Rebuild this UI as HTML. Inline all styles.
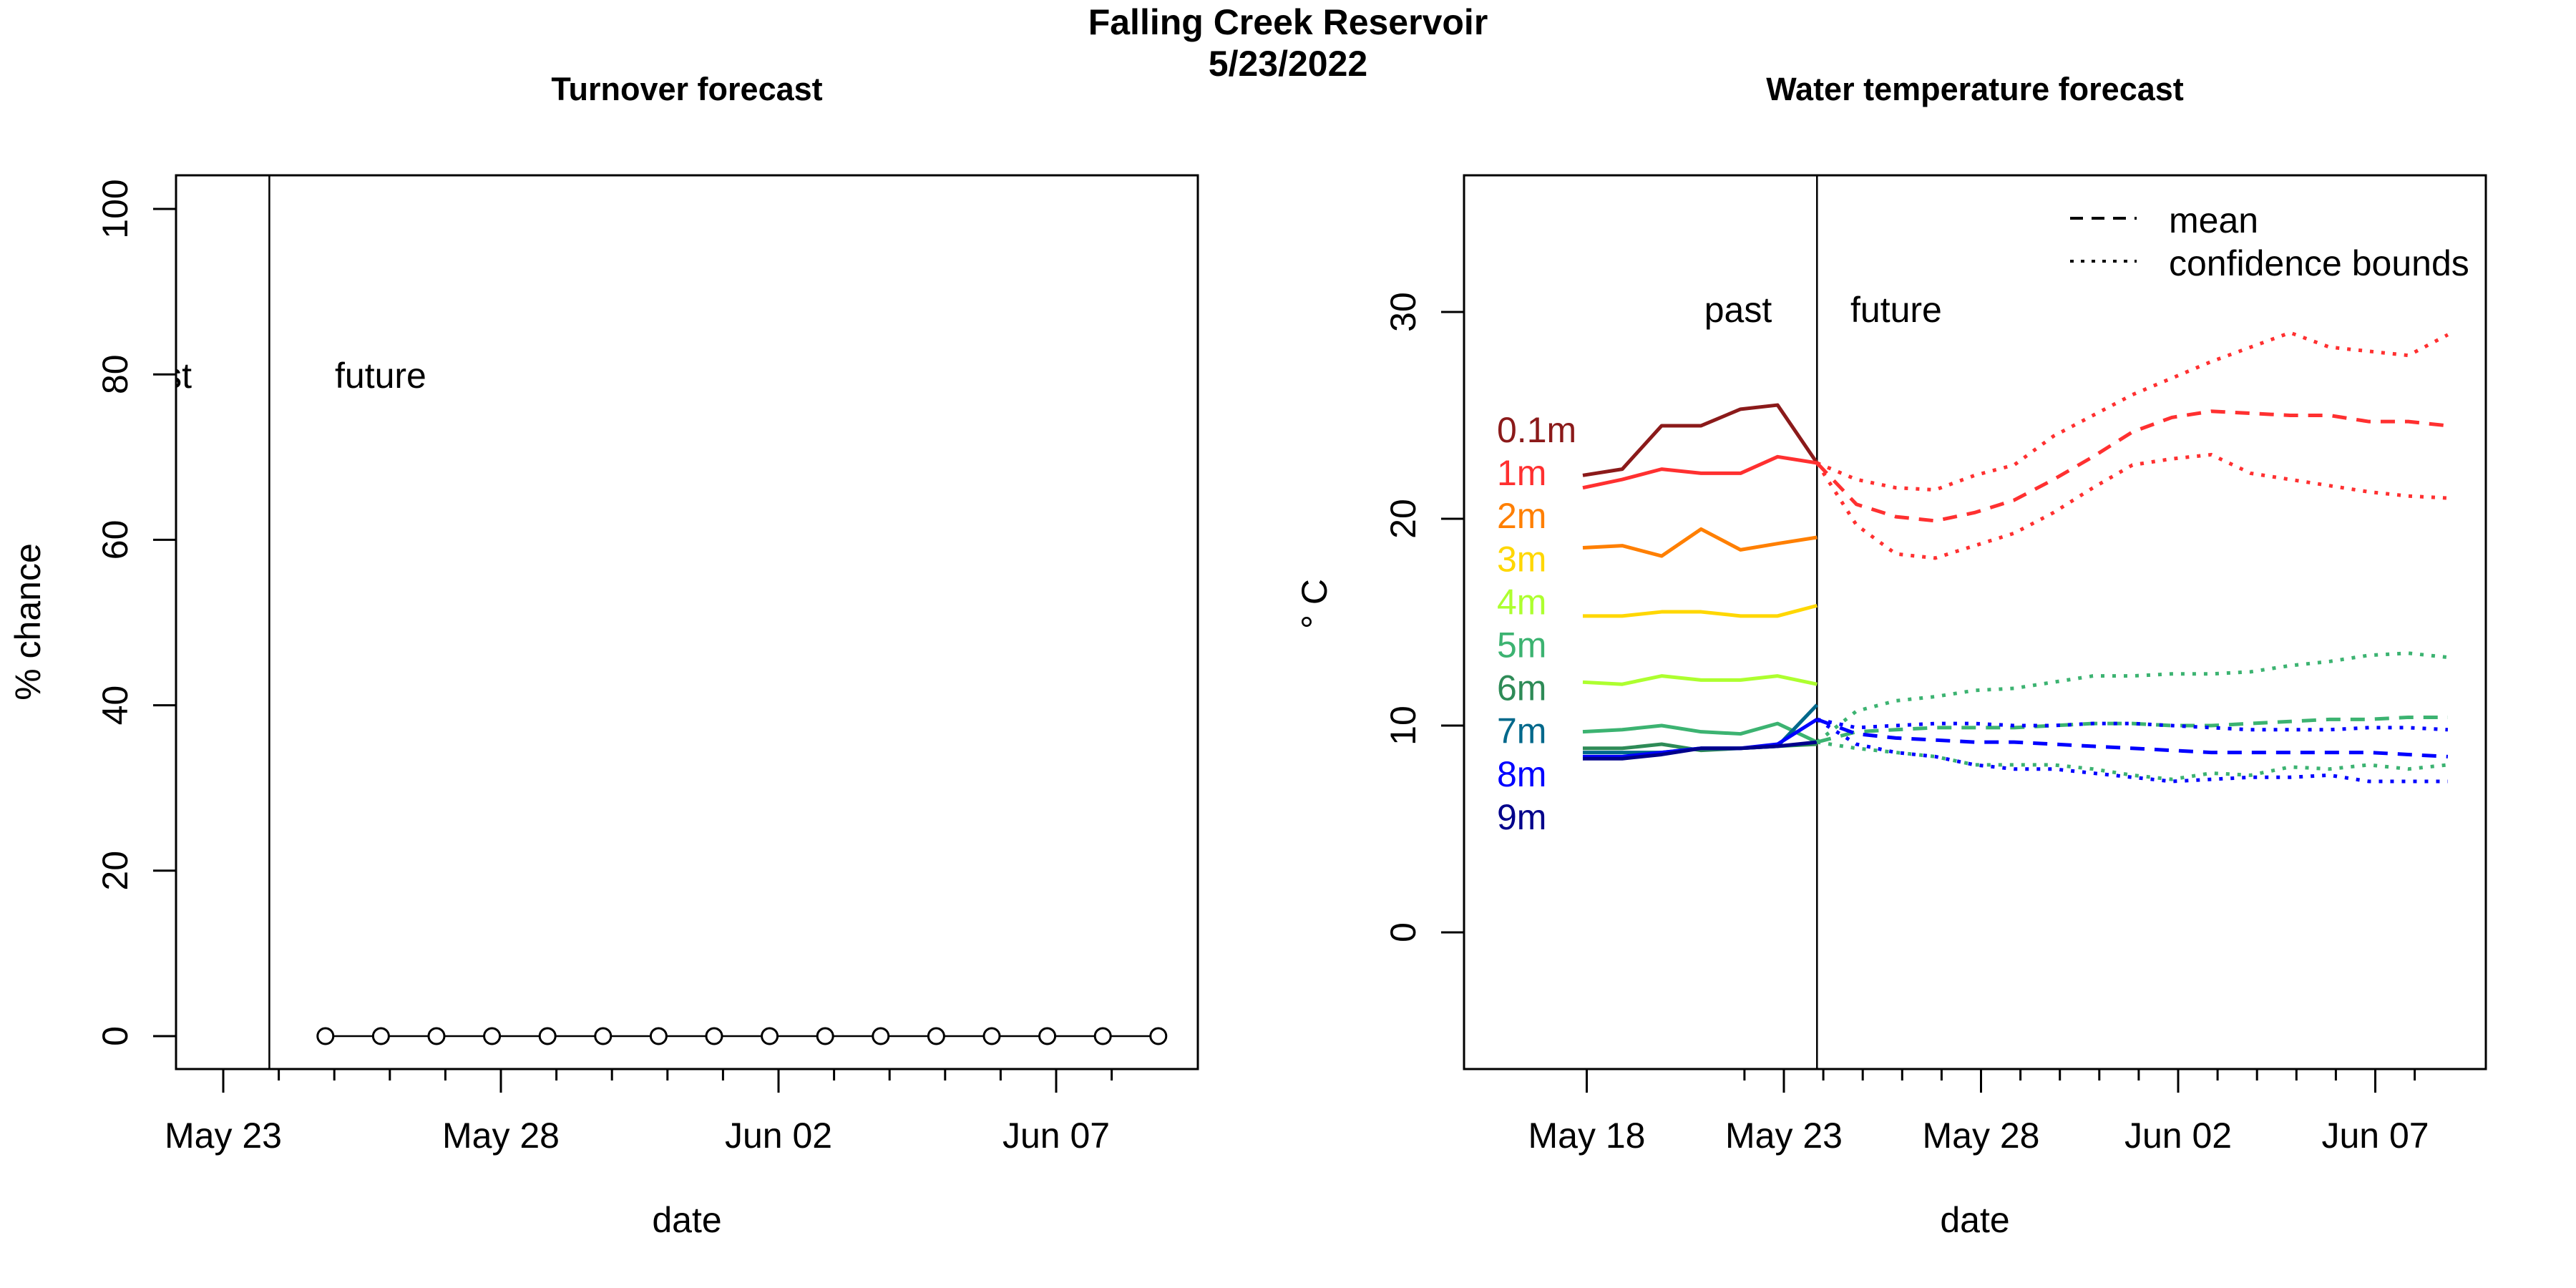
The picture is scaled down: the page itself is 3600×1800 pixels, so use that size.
<!DOCTYPE html>
<html><head><meta charset="utf-8"><style>
html,body{margin:0;padding:0;background:#fff}
svg{display:block;font-family:"Liberation Sans",Arial,sans-serif}
</style></head><body>
<svg id="chart" width="3600" height="1800" viewBox="0 0 3600 1800" xmlns="http://www.w3.org/2000/svg">
<defs>
<clipPath id="clipL"><rect x="246" y="245" width="1428" height="1249"/></clipPath>
<clipPath id="clipR"><rect x="2046" y="245" width="1428" height="1249"/></clipPath>
</defs>
<text x="1800" y="48" font-size="50" font-weight="bold" text-anchor="middle">Falling Creek Reservoir</text>
<text x="1800" y="106" font-size="50" font-weight="bold" text-anchor="middle">5/23/2022</text>
<g id="left"></g>
<g id="right"></g>
</svg>
<script>
// ---- Turnover data ----
const turnDays = [1.84,2.84,3.84,4.84,5.84,6.84,7.84,8.84,9.84,10.84,11.84,12.84,13.84,14.84,15.84,16.84];
const turnChance = [0,0,0,0,0,0,0,0,0,0,0,0,0,0,0,0];
const turnYTicks = [0,20,40,60,80,100];
const turnXTickDays = [0,5,10,15];
const turnXTickLabels = ["May 23","May 28","Jun 02","Jun 07"];

// ---- Water temperature data ----
const depthLabels = ["0.1m","1m","2m","3m","4m","5m","6m","7m","8m","9m"];
const depthColors = ["#8b1a1a","#ff3030","#ff7f00","#ffd700","#adff2f","#3cb371","#2e8b57","#00688b","#0000ff","#00008b"];
const pastDays = [-5.1,-4.1,-3.1,-2.1,-1.1,-0.16,0.84];
const past01 = [22.1,22.4,24.5,24.5,25.3,25.5,22.7];
const past1 = [21.5,21.9,22.4,22.2,22.2,23.0,22.7];
const past2 = [18.6,18.7,18.2,19.5,18.5,18.8,19.1];
const past3 = [15.3,15.3,15.5,15.5,15.3,15.3,15.8];
const past4 = [12.1,12.0,12.4,12.2,12.2,12.4,12.0];
const past5 = [9.7,9.8,10.0,9.7,9.6,10.1,9.2];
const past6 = [8.9,8.9,9.1,8.8,8.9,9.0,9.1];
const past7 = [8.7,8.7,8.7,8.9,8.9,9.0,11.0];
const past8 = [8.5,8.5,8.7,8.9,8.9,9.1,10.3];
const past9 = [8.4,8.4,8.6,8.9,8.9,9.0,9.2];
const fcDays = [0.84,1.84,2.84,3.84,4.84,5.84,6.84,7.84,8.84,9.84,10.84,11.84,12.84,13.84,14.84,15.84,16.84];
const fc1Mean = [22.7,20.7,20.1,19.9,20.3,20.9,21.9,23.0,24.2,24.9,25.2,25.1,25.0,25.0,24.7,24.7,24.5];
const fc1Upper = [22.7,21.9,21.5,21.4,22.1,22.6,24.0,25.0,26.0,26.8,27.6,28.3,29.0,28.3,28.1,27.9,28.9];
const fc1Lower = [22.7,19.7,18.3,18.1,18.7,19.3,20.3,21.5,22.6,22.9,23.1,22.2,21.9,21.6,21.3,21.1,21.0];
const fc5Mean = [9.2,9.7,9.8,9.9,9.9,9.9,10.0,10.1,10.1,10.0,10.0,10.1,10.2,10.3,10.3,10.4,10.4];
const fc5Upper = [9.2,10.7,11.2,11.4,11.7,11.8,12.1,12.4,12.4,12.5,12.5,12.6,12.9,13.1,13.4,13.5,13.3];
const fc5Lower = [9.2,8.9,8.7,8.5,8.1,8.1,8.1,7.9,7.6,7.4,7.7,7.6,8.0,7.9,8.1,7.9,8.1];
const fc8Mean = [10.3,9.6,9.4,9.3,9.2,9.2,9.1,9.0,8.9,8.8,8.7,8.7,8.7,8.7,8.7,8.6,8.5];
const fc8Upper = [10.3,9.9,10.0,10.1,10.1,10.0,10.0,10.1,10.1,10.0,9.9,9.8,9.8,9.8,9.9,9.9,9.8];
const fc8Lower = [10.3,9.1,8.7,8.5,8.1,7.9,7.9,7.7,7.5,7.3,7.4,7.5,7.5,7.6,7.3,7.3,7.3];
const tempYTicks = [0,10,20,30];
const tempXTickDays = [-5,0,5,10,15];
const tempXTickLabels = ["May 18","May 23","May 28","Jun 02","Jun 07"];

const NS="http://www.w3.org/2000/svg";
function mk(parent,tag,attrs,text){const e=document.createElementNS(NS,tag);for(const k in attrs)e.setAttribute(k,attrs[k]);if(text!==undefined)e.textContent=text;parent.appendChild(e);return e;}

// ---- Left panel ----
const L=document.getElementById('left');
const lx=d=>312+d*77.6, ly=v=>1448-v*11.56;
let e;
e=mk(L,'text',{x:960,y:140,'font-size':45,'font-weight':'bold','text-anchor':'middle'},'Turnover forecast');


e=mk(L,'rect',{x:246,y:245,width:1428,height:1249,fill:'none',stroke:'#000','stroke-width':3});


turnYTicks.forEach(v=>{
  e=mk(L,'line',{x1:214,x2:246,y1:ly(v),y2:ly(v),stroke:'#000','stroke-width':3});
  
  
  e=mk(L,'text',{x:178,y:ly(v),'font-size':50,'text-anchor':'middle',transform:`rotate(-90 178 ${ly(v)})`},String(v));
  
  
});
for(let d=1;d<=16;d++){
  e=mk(L,'line',{x1:lx(d),x2:lx(d),y1:1494,y2:1510,stroke:'#000','stroke-width':3});
  
  
}
turnXTickDays.forEach((d,i)=>{
  e=mk(L,'line',{x1:lx(d),x2:lx(d),y1:1494,y2:1527,stroke:'#000','stroke-width':3});
  
  
  e=mk(L,'text',{x:lx(d),y:1604,'font-size':50,'text-anchor':'middle'},turnXTickLabels[i]);
  
  
});
e=mk(L,'text',{x:960,y:1722,'font-size':50,'text-anchor':'middle'},'date');


e=mk(L,'text',{x:56,y:869,'font-size':50,'text-anchor':'middle',transform:'rotate(-90 56 869)'},'% chance');


e=mk(L,'line',{x1:lx(0.83),x2:lx(0.83),y1:245,y2:1494,stroke:'#000','stroke-width':2.5});


const gclip=mk(L,'g',{'clip-path':'url(#clipL)'});
e=mk(gclip,'text',{x:268,y:542,'font-size':50,'text-anchor':'end'},'past');


e=mk(L,'text',{x:468,y:542,'font-size':50},'future');


e=mk(L,'polyline',{points:turnDays.map((d,i)=>lx(d)+','+ly(turnChance[i])).join(' '),fill:'none',stroke:'#000','stroke-width':2.5});


turnDays.forEach((d,i)=>{
  e=mk(L,'circle',{cx:lx(d),cy:ly(turnChance[i]),r:11,fill:'#fff',stroke:'#000','stroke-width':3});
  
  
});

// ---- Right panel ----
const R=document.getElementById('right');
const rx=d=>2493+d*55.1, ry=v=>1303-v*28.9;
e=mk(R,'text',{x:2760,y:140,'font-size':45,'font-weight':'bold','text-anchor':'middle'},'Water temperature forecast');


e=mk(R,'rect',{x:2046,y:245,width:1428,height:1249,fill:'none',stroke:'#000','stroke-width':3});


tempYTicks.forEach(v=>{
  e=mk(R,'line',{x1:2014,x2:2046,y1:ry(v),y2:ry(v),stroke:'#000','stroke-width':3});
  
  
  e=mk(R,'text',{x:1978,y:ry(v),'font-size':50,'text-anchor':'middle',transform:`rotate(-90 1978 ${ry(v)})`},String(v));
  
  
});
for(let d=-1;d<=16;d++){
  e=mk(R,'line',{x1:rx(d),x2:rx(d),y1:1494,y2:1510,stroke:'#000','stroke-width':3});
  
  
}
tempXTickDays.forEach((d,i)=>{
  e=mk(R,'line',{x1:rx(d),x2:rx(d),y1:1494,y2:1527,stroke:'#000','stroke-width':3});
  
  
  e=mk(R,'text',{x:rx(d),y:1604,'font-size':50,'text-anchor':'middle'},tempXTickLabels[i]);
  
  
});
e=mk(R,'text',{x:2760,y:1722,'font-size':50,'text-anchor':'middle'},'date');


e=mk(R,'text',{x:1854,y:844,'font-size':50,'text-anchor':'middle',transform:'rotate(-90 1854 844)'},'° C');


e=mk(R,'line',{x1:rx(0.84),x2:rx(0.84),y1:245,y2:1494,stroke:'#000','stroke-width':2.5});


e=mk(R,'text',{x:2429,y:450,'font-size':50,'text-anchor':'middle'},'past');


e=mk(R,'text',{x:2586,y:450,'font-size':50},'future');



const rg=mk(R,'g',{'clip-path':'url(#clipR)'});
const pastSeries=[past01,past1,past2,past3,past4,past5,past6,past7,past8,past9];
pastSeries.forEach((s,i)=>{
  e=mk(rg,'polyline',{points:pastDays.map((d,j)=>rx(d)+','+ry(s[j])).join(' '),fill:'none',stroke:depthColors[i],'stroke-width':5,'stroke-linejoin':'round'});
  
  
});
const fcSeries=[[fc1Mean,'#ff3030','mean','1m'],[fc1Upper,'#ff3030','upper','1m'],[fc1Lower,'#ff3030','lower','1m'],
 [fc5Mean,'#3cb371','mean','5m'],[fc5Upper,'#3cb371','upper','5m'],[fc5Lower,'#3cb371','lower','5m'],
 [fc8Mean,'#0000ff','mean','8m'],[fc8Upper,'#0000ff','upper','8m'],[fc8Lower,'#0000ff','lower','8m']];
fcSeries.forEach(([s,c,kind,dep])=>{
  e=mk(rg,'polyline',{points:fcDays.map((d,j)=>rx(d)+','+ry(s[j])).join(' '),fill:'none',stroke:c,'stroke-width':5,'stroke-dasharray':kind==='mean'?'20 14':'5 11'});
  
  
});
depthLabels.forEach((t,i)=>{
  e=mk(R,'text',{x:2092,y:618+i*60.1,'font-size':50,fill:depthColors[i]},t);
  
  
});
e=mk(R,'line',{x1:2893,x2:2986,y1:305,y2:305,stroke:'#000','stroke-width':4,'stroke-dasharray':'18 12'});


e=mk(R,'text',{x:3031,y:325,'font-size':50},'mean');


e=mk(R,'line',{x1:2893,x2:2986,y1:365,y2:365,stroke:'#000','stroke-width':4,'stroke-dasharray':'5 10'});


e=mk(R,'text',{x:3031,y:385,'font-size':50},'confidence bounds');


</script>
</body></html>
